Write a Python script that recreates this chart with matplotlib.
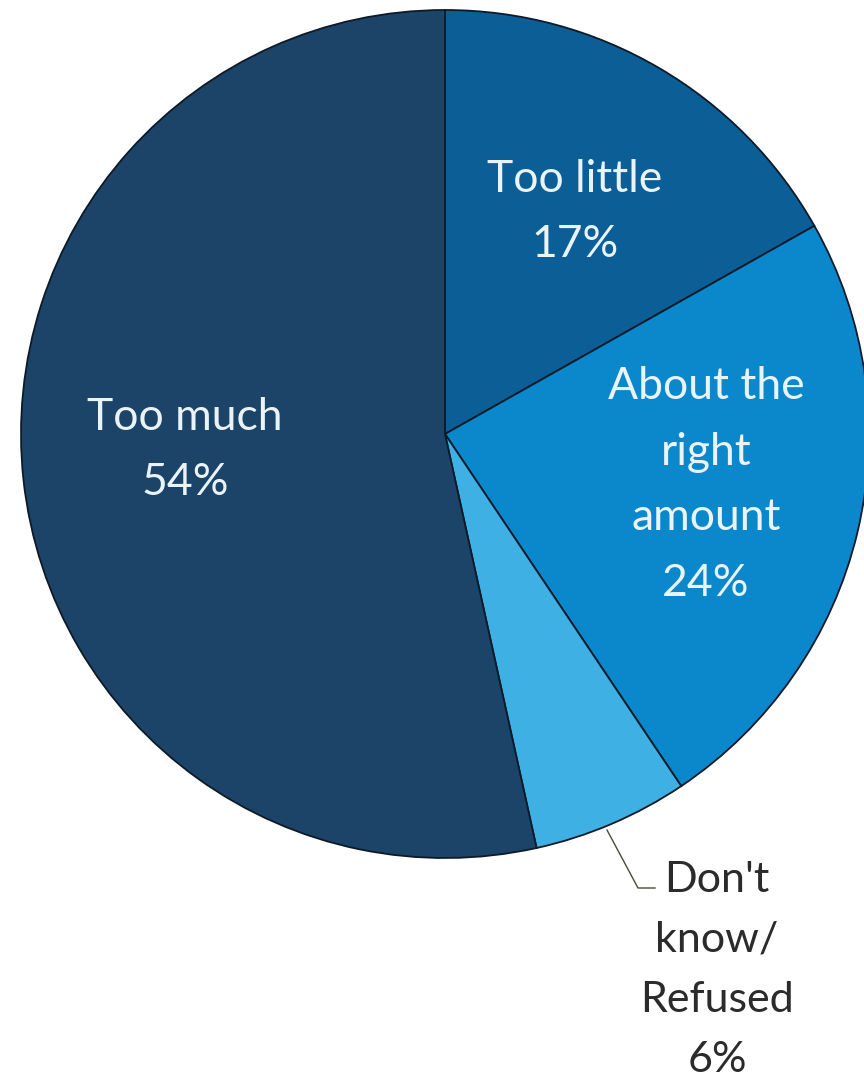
import matplotlib.pyplot as plt

# survey answers, clockwise from 12 o'clock
labels = ["Too little", "About the\nright\namount", "Don't\nknow/\nRefused", "Too much"]
shares = [17, 24, 6, 54]
colors = ["#0b5e96", "#0b88cc", "#3fb0e4", "#1b4468"]

W, H = 864, 1092
cx, cy, r = 445, 434, 424   # pie centre and radius in pixels

fig = plt.figure(figsize=(W / 100, H / 100), dpi=100)
ax = fig.add_axes([(cx - r) / W, (H - cy - r) / H, 2 * r / W, 2 * r / H])
ax.pie(shares, colors=colors, startangle=90, counterclock=False, radius=1,
       wedgeprops=dict(edgecolor="#0d1a28", linewidth=1.3))
ax.set_xlim(-1, 1)
ax.set_ylim(-1, 1)
ax.set_aspect("equal")
ax.axis("off")


def px(x, y):
    # pixel position -> data coords
    return (x - cx) / r, (cy - y) / r


font = "Lato"
fs = 32
ls = 1.75
txt = "#eaf4f8"

ax.text(*px(575, 212), f"{labels[0]}\n{shares[0]}%", ha="center", va="center",
        color=txt, fontsize=fs, family=font, linespacing=ls)
ax.text(*px(706, 485), f"{labels[1]}\n{shares[1]}%", ha="center", va="center",
        color=txt, fontsize=fs, family=font, linespacing=ls)
ax.text(*px(185, 450), f"{labels[3]}\n{shares[3]}%", ha="center", va="center",
        color=txt, fontsize=fs, family=font, linespacing=ls)

# outside label with leader line for the small slice
lx, ly = zip(px(607, 830), px(638, 888), px(655, 888))
ax.plot(lx, ly, color="#4a4a3a", lw=1.0, clip_on=False)
ax.text(*px(717, 970), f"{labels[2]}\n{shares[2]}%", ha="center", va="center",
        color="#2b2b2b", fontsize=31, family=font, linespacing=1.72, clip_on=False)

fig.savefig("out.png", dpi=100)
